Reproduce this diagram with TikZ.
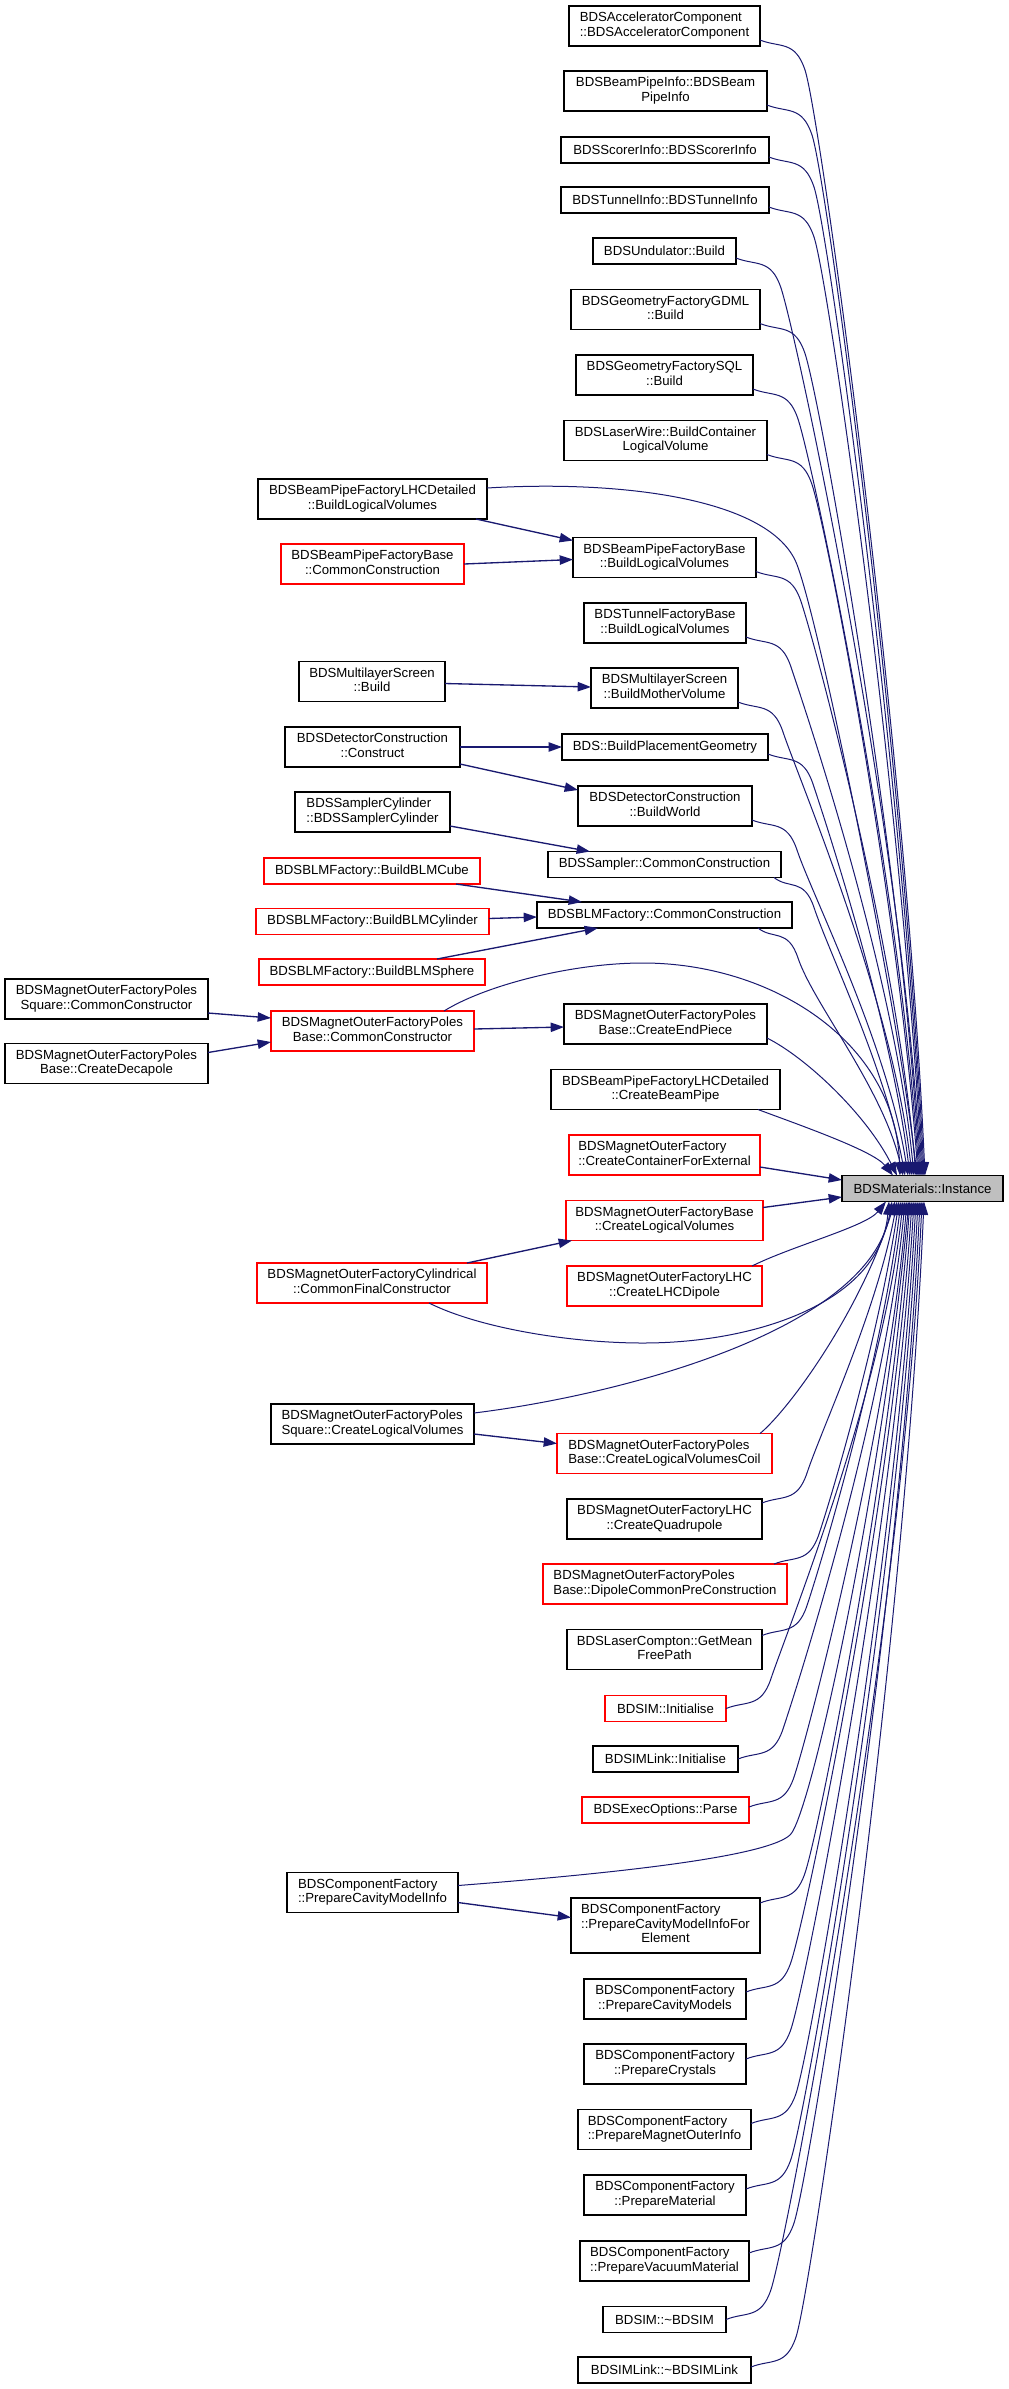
\documentclass[tikz,border=0pt]{standalone}
\usepackage{fontspec}
\setmainfont{Liberation Sans}
\usetikzlibrary{arrows.meta,calc}
\definecolor{edgec}{RGB}{25,25,112}
\definecolor{instfill}{RGB}{191,191,191}
\newcommand{\nodefont}{\fontsize{9.9pt}{10.9pt}\selectfont}
\newcommand{\twol}[2]{\begin{tabular}{@{}l@{}}#1\\\multicolumn{1}{@{}c@{}}{#2}\end{tabular}}
\newcommand{\threel}[3]{\begin{tabular}{@{}l@{}}#1\\#2\\\multicolumn{1}{@{}c@{}}{#3}\end{tabular}}
\newcommand{\dnedge}[3]{\draw[callc] #1 .. controls +(20,8) and +(-10,-30) .. ++(45,30) .. controls +(15,45) and +(-20,-#3) .. #2;}
\newcommand{\upedge}[3]{\draw[callc] #1 .. controls +(20,-8) and +(-10,30) .. ++(45,-30) .. controls +(15,-45) and +(-20,#3) .. #2;}
\tikzset{
  fn/.style={draw=black, line width=0.9pt, fill=white, inner sep=0pt, outer sep=0pt, font=\nodefont},
  fnred/.style={fn, draw=red},
  fninst/.style={fn, fill=instfill},
  sz/.style 2 args={minimum width=#1, minimum height=#2},
  call/.style={draw=edgec, line width=1pt, -{Triangle[length=10pt,width=7pt]}},
  callc/.style={call, line width=0.75pt},
}
\begin{document}
\begin{tikzpicture}[x=0.75pt,y=-0.75pt]
\fill[white] (0,0) rectangle (1008,2389);
\useasboundingbox (0,0) rectangle (1008,2389);

% ---------- nodes ----------
\node[fn,sz={143.25pt}{30pt}] (n1) at (664.5,26) {\twol{BDSAcceleratorComponent}{::BDSAcceleratorComponent}};
\node[fn,sz={152.25pt}{30pt}] (n2) at (665.5,91) {\twol{BDSBeamPipeInfo::BDSBeam}{PipeInfo}};
\node[fn,sz={156pt}{19.5pt}] (n3) at (665,150) {BDSScorerInfo::BDSScorerInfo};
\node[fn,sz={156pt}{19.5pt}] (n4) at (665,200) {BDSTunnelInfo::BDSTunnelInfo};
\node[fn,sz={107.25pt}{19.5pt}] (n5) at (664.5,251) {BDSUndulator::Build};
\node[fn,sz={141.75pt}{30pt}] (n6) at (665.5,309.5) {\twol{BDSGeometryFactoryGDML}{::Build}};
\node[fn,sz={132.75pt}{30pt}] (n7) at (664.5,375) {\twol{BDSGeometryFactorySQL}{::Build}};
\node[fn,sz={152.25pt}{30pt}] (n8) at (665.5,440.5) {\twol{BDSLaserWire::BuildContainer}{LogicalVolume}};
\node[fn,sz={171.75pt}{30pt}] (n9) at (372.5,499) {\twol{BDSBeamPipeFactoryLHCDetailed}{::BuildLogicalVolumes}};
\node[fn,sz={137.25pt}{30pt}] (n10) at (664.5,557.5) {\twol{BDSBeamPipeFactoryBase}{::BuildLogicalVolumes}};
\node[fnred,sz={137.25pt}{30pt}] (n11) at (372.5,564) {\twol{BDSBeamPipeFactoryBase}{::CommonConstruction}};
\node[fn,sz={121.5pt}{30pt}] (n12) at (665,623) {\twol{BDSTunnelFactoryBase}{::BuildLogicalVolumes}};
\node[fn,sz={109.5pt}{30pt}] (n13) at (372,681.5) {\twol{BDSMultilayerScreen}{::Build}};
\node[fn,sz={110.25pt}{30pt}] (n14) at (664.5,688) {\twol{BDSMultilayerScreen}{::BuildMotherVolume}};
\node[fn,sz={131.25pt}{30pt}] (n15) at (372.5,747) {\twol{BDSDetectorConstruction}{::Construct}};
\node[fn,sz={154.5pt}{19.5pt}] (n16) at (665,747) {BDS::BuildPlacementGeometry};
\node[fn,sz={130.5pt}{30pt}] (n17) at (665,806) {\twol{BDSDetectorConstruction}{::BuildWorld}};
\node[fn,sz={116.25pt}{30pt}] (n18) at (372.5,812) {\twol{BDSSamplerCylinder}{::BDSSamplerCylinder}};
\node[fn,sz={174.75pt}{19.5pt}] (n19) at (664.5,864.5) {BDSSampler::CommonConstruction};
\node[fnred,sz={162pt}{19.5pt}] (n20) at (372,871) {BDSBLMFactory::BuildBLMCube};
\node[fn,sz={191.25pt}{19.5pt}] (n21) at (664.5,915) {BDSBLMFactory::CommonConstruction};
\node[fnred,sz={174.75pt}{19.5pt}] (n22) at (372.5,921.5) {BDSBLMFactory::BuildBLMCylinder};
\node[fnred,sz={169.5pt}{19.5pt}] (n23) at (372,972) {BDSBLMFactory::BuildBLMSphere};
\node[fn,sz={152.25pt}{30pt}] (n24) at (106.5,999) {\twol{BDSMagnetOuterFactoryPoles}{Square::CommonConstructor}};
\node[fnred,sz={152.25pt}{30pt}] (n25) at (372.5,1031) {\twol{BDSMagnetOuterFactoryPoles}{Base::CommonConstructor}};
\node[fn,sz={152.25pt}{30pt}] (n26) at (665.5,1024) {\twol{BDSMagnetOuterFactoryPoles}{Base::CreateEndPiece}};
\node[fn,sz={152.25pt}{30pt}] (n27) at (106.5,1063.5) {\twol{BDSMagnetOuterFactoryPoles}{Base::CreateDecapole}};
\node[fn,sz={171.75pt}{30pt}] (n28) at (665.5,1089.5) {\twol{BDSBeamPipeFactoryLHCDetailed}{::CreateBeamPipe}};
\node[fnred,sz={143.25pt}{30pt}] (n29) at (664.5,1155) {\twol{BDSMagnetOuterFactory}{::CreateContainerForExternal}};
\node[fninst,sz={120.75pt}{19.5pt}] (n0) at (922.5,1188.5) {BDSMaterials::Instance};
\node[fnred,sz={147.75pt}{30pt}] (n30) at (664.5,1220.5) {\twol{BDSMagnetOuterFactoryBase}{::CreateLogicalVolumes}};
\node[fnred,sz={172.5pt}{30pt}] (n31) at (372,1283) {\twol{BDSMagnetOuterFactoryCylindrical}{::CommonFinalConstructor}};
\node[fnred,sz={146.25pt}{30pt}] (n32) at (664.5,1286) {\twol{BDSMagnetOuterFactoryLHC}{::CreateLHCDipole}};
\node[fn,sz={152.25pt}{30pt}] (n33) at (372.5,1424) {\twol{BDSMagnetOuterFactoryPoles}{Square::CreateLogicalVolumes}};
\node[fnred,sz={161.25pt}{30pt}] (n34) at (664.5,1453.5) {\twol{BDSMagnetOuterFactoryPoles}{Base::CreateLogicalVolumesCoil}};
\node[fn,sz={146.25pt}{30pt}] (n35) at (664.5,1519) {\twol{BDSMagnetOuterFactoryLHC}{::CreateQuadrupole}};
\node[fnred,sz={183pt}{30pt}] (n36) at (665,1584) {\twol{BDSMagnetOuterFactoryPoles}{Base::DipoleCommonPreConstruction}};
\node[fn,sz={146.25pt}{30pt}] (n37) at (664.5,1649.5) {\twol{BDSLaserCompton::GetMean}{FreePath}};
\node[fnred,sz={90.75pt}{19.5pt}] (n38) at (665.5,1708.5) {BDSIM::Initialise};
\node[fn,sz={108.75pt}{19.5pt}] (n39) at (665.5,1759) {BDSIMLink::Initialise};
\node[fnred,sz={125.25pt}{19.5pt}] (n40) at (665.5,1810) {BDSExecOptions::Parse};
\node[fn,sz={128.25pt}{30pt}] (n41) at (372.5,1892.5) {\twol{BDSComponentFactory}{::PrepareCavityModelInfo}};
\node[fn,sz={141.75pt}{41.25pt}] (n42) at (665.5,1925.5) {\threel{BDSComponentFactory}{::PrepareCavityModelInfoFor}{Element}};
\node[fn,sz={121.5pt}{30pt}] (n43) at (665,1999) {\twol{BDSComponentFactory}{::PrepareCavityModels}};
\node[fn,sz={121.5pt}{30pt}] (n44) at (665,2064) {\twol{BDSComponentFactory}{::PrepareCrystals}};
\node[fn,sz={129.75pt}{30pt}] (n45) at (664.5,2129.5) {\twol{BDSComponentFactory}{::PrepareMagnetOuterInfo}};
\node[fn,sz={121.5pt}{30pt}] (n46) at (665,2195) {\twol{BDSComponentFactory}{::PrepareMaterial}};
\node[fn,sz={126.75pt}{30pt}] (n47) at (664.5,2261) {\twol{BDSComponentFactory}{::PrepareVacuumMaterial}};
\node[fn,sz={92.25pt}{19.5pt}] (n48) at (664.5,2319.5) {BDSIM::\textasciitilde BDSIM};
\node[fn,sz={129.75pt}{19.5pt}] (n49) at (664.5,2370) {BDSIMLink::\textasciitilde BDSIMLink};

% ---------- short caller edges ----------
\draw[call] ($(n9.south east)+(-11,0)$) -- ($(n10.north west)+(0,3)$);
\draw[call] (n11.east) -- ($(n10.west)+(0,2)$);
\draw[call] ($(n13.east)+(0,2)$) -- ($(n14.west)+(0,-1)$);
\draw[call] (n15.east) -- (n16.west);
\draw[call] ($(n15.south east)+(0,-3)$) -- ($(n17.north west)+(0,4)$);
\draw[call] ($(n18.south east)+(0,-6)$) -- ($(n19.north west)+(42,0)$);
\draw[call] ($(n20.south east)+(-24,0)$) -- ($(n21.north west)+(45,0)$);
\draw[call] ($(n22.east)+(0,-3)$) -- ($(n21.west)+(0,2)$);
\draw[call] ($(n23.north east)+(-48,0)$) -- ($(n21.south west)+(61,0)$);
\draw[call] ($(n24.east)+(0,14)$) -- ($(n25.west)+(0,-13)$);
\draw[call] ($(n27.north east)+(0,9)$) -- ($(n25.west)+(0,11)$);
\draw[call] ($(n25.east)+(0,-2)$) -- ($(n26.west)+(0,3)$);
\draw[call] ($(n31.north east)+(-20,0)$) -- ($(n30.south west)+(6,0)$);
\draw[call] ($(n33.east)+(0,10)$) -- ($(n34.west)+(0,-10)$);
\draw[call] ($(n41.east)+(0,10)$) -- ($(n42.west)+(0,-8)$);

% ---------- edges into BDSMaterials::Instance from above ----------
\dnedge{($(n1.south east)+(0,-6)$)}{($(n0.north west)+(83,0)$)}{442}
\dnedge{($(n2.south east)+(0,-6)$)}{($(n0.north west)+(82,0)$)}{416}
\dnedge{($(n3.south east)+(0,-6)$)}{($(n0.north west)+(81,0)$)}{396}
\dnedge{($(n4.south east)+(0,-6)$)}{($(n0.north west)+(80,0)$)}{376}
\dnedge{($(n5.south east)+(0,-6)$)}{($(n0.north west)+(79,0)$)}{355}
\dnedge{($(n6.south east)+(0,-6)$)}{($(n0.north west)+(78,0)$)}{329}
\dnedge{($(n7.south east)+(0,-6)$)}{($(n0.north west)+(77,0)$)}{303}
\dnedge{($(n8.south east)+(0,-6)$)}{($(n0.north west)+(76,0)$)}{276}
\draw[callc] ($(n9.east)+(0,-11)$) .. controls +(133,-8) and (765,498) .. (795,560) .. controls (815,600) and (897,1000) .. ($(n0.north west)+(75,0)$);
\dnedge{($(n10.south east)+(0,-6)$)}{($(n0.north west)+(74,0)$)}{230}
\dnedge{($(n12.south east)+(0,-6)$)}{($(n0.north west)+(72,0)$)}{204}
\dnedge{($(n14.south east)+(0,-6)$)}{($(n0.north west)+(70,0)$)}{178}
\dnedge{($(n16.south east)+(0,-6)$)}{($(n0.north west)+(68,0)$)}{157}
\dnedge{($(n17.south east)+(0,-6)$)}{($(n0.north west)+(66,0)$)}{130}
\draw[callc] ($(n19.south east)+(-7,0)$) .. controls +(15,12) and +(-10,-30) .. ++(40,30) .. controls +(15,45) and +(-20,-108) .. ($(n0.north west)+(63,0)$);
\draw[callc] ($(n21.south east)+(-34,0)$) .. controls +(15,12) and +(-10,-30) .. ++(40,30) .. controls +(15,45) and +(-20,-87) .. ($(n0.north west)+(61,0)$);
\draw[callc] ($(n25.north east)+(-30,0)$) .. controls +(40,-25) and (570,963) .. (643,963) .. controls (770,963) and (895,1040) .. ($(n0.north west)+(58,0)$);
\draw[callc] ($(n26.south east)+(0,-6)$) .. controls +(40,20) and +(-30,-60) .. ($(n0.north west)+(55,0)$);
\draw[callc] ($(n28.south east)+(-22,0)$) .. controls +(40,15) and +(-20,-25) .. ($(n0.north west)+(51,0)$);
\draw[call] ($(n29.east)+(0,12)$) -- ($(n0.west)+(0,-8.5)$);

% ---------- edges into BDSMaterials::Instance from below ----------
\draw[call] ($(n30.north east)+(0,7)$) -- ($(n0.west)+(0,8.5)$);
\draw[callc] ($(n32.north east)+(-10,0)$) .. controls +(40,-20) and +(-20,25) .. ($(n0.south west)+(44,0)$);
\draw[callc] ($(n31.south east)+(-58,0)$) .. controls +(50,25) and (570,1343) .. (643,1343) .. controls (760,1343) and (880,1300) .. ($(n0.south west)+(47,0)$);
\draw[callc] ($(n33.east)+(0,-11)$) .. controls +(146,-18) and +(-23,129) .. ($(n0.south west)+(50,0)$);
\draw[callc] ($(n34.north east)+(-12,0)$) .. controls +(30,-25) and +(-35,110) .. ($(n0.south west)+(53,0)$);
\upedge{($(n35.north east)+(0,4)$)}{($(n0.south west)+(55,0)$)}{109}
\upedge{($(n36.north east)+(-13,0)$)}{($(n0.south west)+(57,0)$)}{133}
\upedge{($(n37.north east)+(0,6)$)}{($(n0.south west)+(59,0)$)}{162}
\upedge{(n38.east)}{($(n0.south west)+(61,0)$)}{191}
\upedge{(n39.east)}{($(n0.south west)+(63,0)$)}{211}
\upedge{($(n40.east)+(0,-3)$)}{($(n0.south west)+(65,0)$)}{230}
\draw[callc] ($(n41.east)+(0,-7)$) .. controls +(142,-11) and (765,1858) .. (790,1835) .. controls (810,1817) and (880,1500) .. ($(n0.south west)+(67,0)$);
\upedge{($(n42.north east)+(0,5)$)}{($(n0.south west)+(68,0)$)}{269}
\upedge{($(n43.north east)+(0,13)$)}{($(n0.south west)+(70,0)$)}{304}
\upedge{($(n44.north east)+(0,15)$)}{($(n0.south west)+(72,0)$)}{331}
\upedge{($(n45.north east)+(0,14)$)}{($(n0.south west)+(74,0)$)}{357}
\upedge{($(n46.north east)+(0,14)$)}{($(n0.south west)+(76,0)$)}{383}
\upedge{($(n47.north east)+(0,12)$)}{($(n0.south west)+(78,0)$)}{409}
\upedge{(n48.east)}{($(n0.south west)+(80,0)$)}{436}
\upedge{($(n49.north east)+(0,10)$)}{($(n0.south west)+(82,0)$)}{454}
\end{tikzpicture}
\end{document}
